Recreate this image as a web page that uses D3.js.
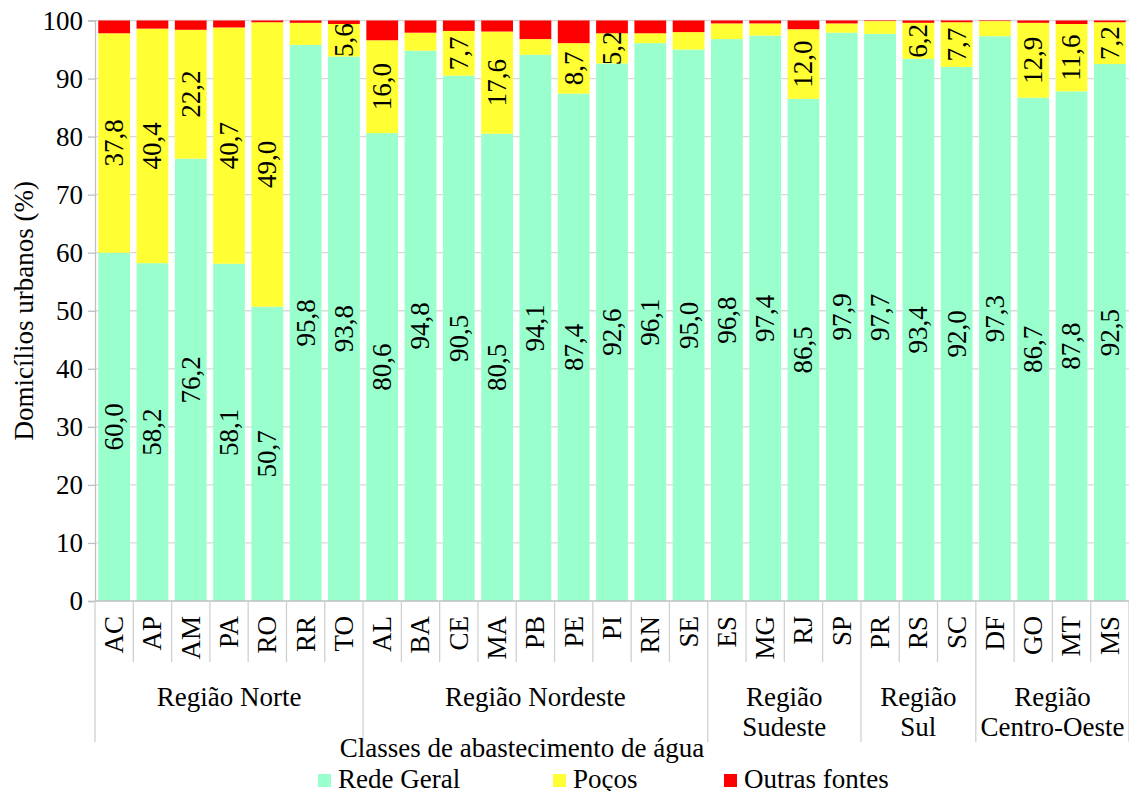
<!DOCTYPE html>
<html>
<head>
<meta charset="utf-8">
<script src="https://cdn.jsdelivr.net/npm/d3@7"></script>
<style>
  html, body { margin: 0; padding: 0; background: #fff; }
  svg text { font-family: "Liberation Serif", "Times New Roman", serif; fill: #000; }
</style>
</head>
<body>
<svg id="chart" width="1129" height="791"></svg>
<script>
const states = ["AC","AP","AM","PA","RO","RR","TO","AL","BA","CE","MA","PB","PE","PI","RN","SE","ES","MG","RJ","SP","PR","RS","SC","DF","GO","MT","MS"];
const regionNames = [["Região Norte"],["Região Nordeste"],["Região","Sudeste"],["Região","Sul"],["Região","Centro-Oeste"]];
const regionSizes = [7, 9, 4, 3, 4];
const redeGeral = [60.0,58.2,76.2,58.1,50.7,95.8,93.8,80.6,94.8,90.5,80.5,94.1,87.4,92.6,96.1,95.0,96.8,97.4,86.5,97.9,97.7,93.4,92.0,97.3,86.7,87.8,92.5];
const pocos     = [37.8,40.4,22.2,40.7,49.0,3.8,5.6,16.0,3.1,7.7,17.6,2.7,8.7,5.2,1.7,3.0,2.7,2.1,12.0,1.6,2.2,6.2,7.7,2.6,12.9,11.6,7.2];
const outras    = [2.2,1.4,1.6,1.2,0.3,0.4,0.6,3.4,2.1,1.8,1.9,3.2,3.9,2.2,2.2,2.0,0.5,0.5,1.5,0.5,0.1,0.4,0.3,0.1,0.4,0.6,0.3];
const yTicks = [0,10,20,30,40,50,60,70,80,90,100];
const seriesNames = ["Rede Geral","Poços","Outras fontes"];
const seriesColors = ["#99FFCC","#FFFF33","#FF0000"];
const yTitle = "Domicílios urbanos (%)";
const legendTitle = "Classes de abastecimento de água";

(function () {
const FS = 27;
const svg = d3.select("#chart");
const pLeft = 95, pRight = 1129, pTop = 20.5, pBottom = 601;

const x = d3.scaleBand().domain(states).range([pLeft, pRight]).paddingInner(0.17).paddingOuter(0.085);
const y = d3.scaleLinear().domain([0, 100]).range([pBottom, pTop]);

const rows = states.map((s, i) => ({state: s, rede: redeGeral[i], pocos: pocos[i], outras: outras[i]}));
const keys = ["rede","pocos","outras"];
const stacked = d3.stack().keys(keys)(rows);

// gridlines
svg.append("g").selectAll("line").data(yTicks.filter(t => t > 0)).join("line")
  .attr("x1", pLeft).attr("x2", pRight)
  .attr("y1", d => y(d)).attr("y2", d => y(d))
  .attr("stroke", "#D9D9D9").attr("stroke-width", 1.3);

// bars
stacked.forEach((layer, li) => {
  svg.append("g").attr("fill", seriesColors[li]).selectAll("rect").data(layer).join("rect")
    .attr("x", d => x(d.data.state))
    .attr("width", x.bandwidth())
    .attr("y", d => y(d[1]))
    .attr("height", d => y(d[0]) - y(d[1]));
});

// y axis
const yAxis = d3.axisLeft(y).tickValues(yTicks).tickSize(7).tickPadding(5).tickFormat(d3.format("d"));
const gy = svg.append("g").attr("transform", `translate(${pLeft},0)`).call(yAxis);
gy.select(".domain").attr("stroke", "#BFBFBF").attr("stroke-width", 1.3);
gy.selectAll(".tick line").attr("stroke", "#BFBFBF").attr("stroke-width", 1.3);
gy.selectAll(".tick text").attr("font-size", FS).attr("font-family", "Liberation Serif").attr("fill", "#000");

// x axis baseline
svg.append("line").attr("x1", pLeft).attr("x2", pRight).attr("y1", pBottom).attr("y2", pBottom)
  .attr("stroke", "#BFBFBF").attr("stroke-width", 1.3);

// category separators
const step = x.step();
const boundaries = d3.range(states.length + 1).map(i => pLeft + i * step);
const groupStarts = [0];
regionSizes.forEach((n, i) => groupStarts.push(groupStarts[i] + n));
svg.append("g").selectAll("line").data(boundaries).join("line")
  .attr("x1", d => d).attr("x2", d => d)
  .attr("y1", pBottom)
  .attr("y2", (d, i) => groupStarts.includes(i) ? 742 : 662)
  .attr("stroke", "#D0D0D0").attr("stroke-width", 1.3);

// state labels
svg.append("g").selectAll("text").data(states).join("text")
  .attr("transform", d => `translate(${x(d) + x.bandwidth() / 2},616) rotate(-90)`)
  .attr("text-anchor", "end").attr("dy", "0.33em")
  .attr("font-size", FS).text(d => d);

// region labels
regionNames.forEach((lines, i) => {
  const cx = pLeft + (groupStarts[i] + regionSizes[i] / 2) * step;
  const t = svg.append("text").attr("text-anchor", "middle").attr("font-size", FS);
  lines.forEach((ln, j) => {
    t.append("tspan").attr("x", cx).attr("y", 706 + j * 30).text(ln);
  });
});

// data labels
const fmt = v => d3.format(".1f")(v).replace(".", ",");
const labelData = [];
rows.forEach((r) => {
  labelData.push({state: r.state, mid: r.rede / 2, v: r.rede});
  if (r.pocos >= 5) labelData.push({state: r.state, mid: r.rede + r.pocos / 2, v: r.pocos});
});
svg.append("g").selectAll("text").data(labelData).join("text")
  .attr("transform", d => `translate(${x(d.state) + x.bandwidth() / 2},${y(d.mid)}) rotate(-90)`)
  .attr("text-anchor", "middle").attr("dy", "0.33em")
  .attr("font-size", FS).text(d => fmt(d.v));

// y title
svg.append("text").attr("transform", `translate(33,${(pTop + pBottom) / 2}) rotate(-90)`)
  .attr("text-anchor", "middle").attr("font-size", FS).text(yTitle);

// legend
svg.append("text").attr("x", 522).attr("y", 757).attr("text-anchor", "middle").attr("font-size", FS).text(legendTitle);
const legendX = [318, 553, 724];
seriesNames.forEach((n, i) => {
  svg.append("rect").attr("x", legendX[i]).attr("y", 774).attr("width", 13).attr("height", 13).attr("fill", seriesColors[i]);
  svg.append("text").attr("x", legendX[i] + 20).attr("y", 788).attr("font-size", FS).text(n);
});
})();
</script>
</body>
</html>
